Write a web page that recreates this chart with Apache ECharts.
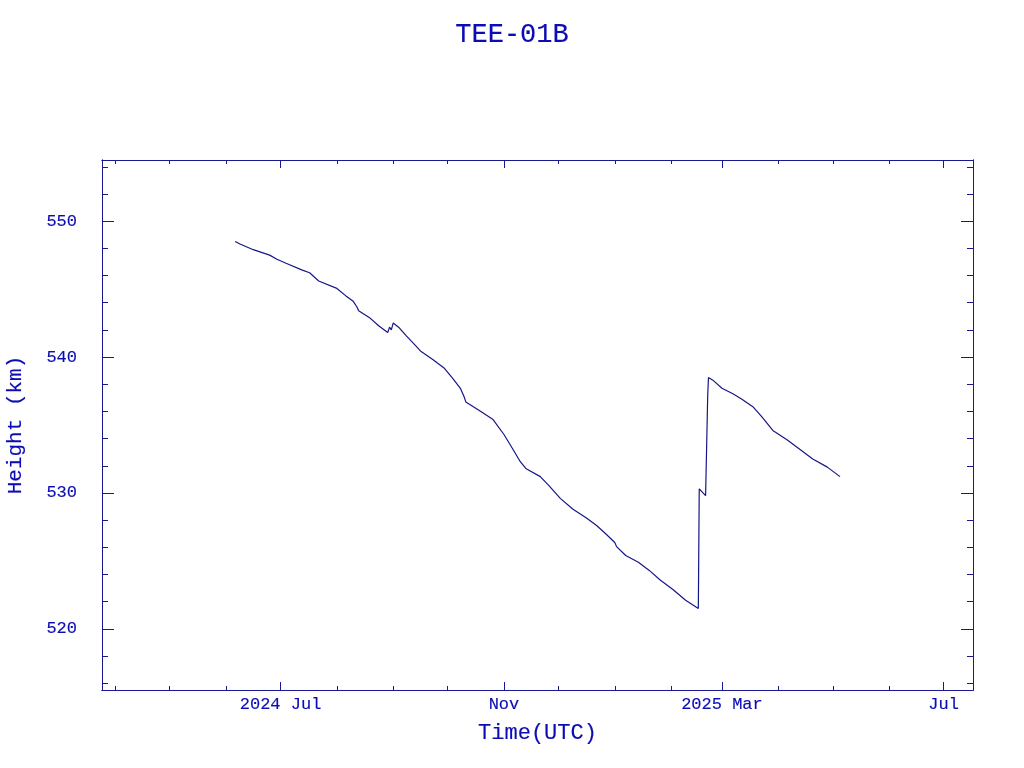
<!DOCTYPE html>
<html>
<head>
<meta charset="utf-8">
<script src="https://cdn.jsdelivr.net/npm/echarts@6/dist/echarts.min.js"></script>
<style>html,body{margin:0;padding:0;background:#fff}#c{width:1024px;height:768px}</style>
</head>
<body>
<div id="c"></div>
<script>
// ---- data ----
const dates = [
 '2024-06-06','2024-06-09','2024-06-16','2024-06-25','2024-06-29','2024-07-04','2024-07-13','2024-07-17',
 '2024-07-22','2024-08-01','2024-08-06','2024-08-10','2024-08-12','2024-08-13','2024-08-19','2024-08-24',
 '2024-08-29','2024-08-30','2024-08-31','2024-09-01','2024-09-04','2024-09-08','2024-09-14','2024-09-16',
 '2024-09-23','2024-09-29','2024-10-04','2024-10-08','2024-10-10','2024-10-11','2024-10-12','2024-10-18',
 '2024-10-26','2024-11-01','2024-11-06','2024-11-10','2024-11-13','2024-11-21','2024-11-26','2024-12-02',
 '2024-12-09','2024-12-16','2024-12-22','2024-12-27','2025-01-01','2025-01-02','2025-01-07','2025-01-14',
 '2025-01-20','2025-01-26','2025-02-02','2025-02-09','2025-02-16T00:00','2025-02-16T12:00','2025-02-20','2025-02-21T00:00',
 '2025-02-21T04:00','2025-02-21T14:00','2025-02-24','2025-03-01','2025-03-07','2025-03-12','2025-03-18','2025-03-23',
 '2025-03-29','2025-04-06','2025-04-13','2025-04-20','2025-04-28','2025-05-05'
];
const heights = [
 548.5,548.3,547.9,547.5,547.2,546.9,546.4,546.2,
 545.6,545.05,544.5,544.1,543.7,543.4,542.9,542.3,
 541.8,542.2,542.0,542.5,542.2,541.6,540.75,540.45,
 539.8,539.2,538.4,537.7,537.1,536.7,536.7,536.1,
 535.4,534.3,533.2,532.3,531.8,531.2,530.5,529.6,
 528.8,528.2,527.6,527.0,526.35,526.05,525.4,524.9,
 524.3,523.6,522.9,522.1,521.5,530.3,529.8,529.8,
 537.2,538.5,538.3,537.7,537.3,536.9,536.35,535.6,
 534.6,533.9,533.2,532.5,531.9,531.2
];
const majorDates = ['2024-07-01','2024-11-01','2025-03-01','2025-07-01'];
const majorLabels = ['2024 Jul','Nov','2025 Mar','Jul'];
const minorDates = ['2024-04-01','2024-05-01','2024-06-01','2024-07-01','2024-08-01','2024-09-01','2024-10-01',
 '2024-11-01','2024-12-01','2025-01-01','2025-02-01','2025-03-01','2025-04-01','2025-05-01','2025-06-01','2025-07-01'];
const yMajor = [520,530,540,550];
const yMinor = [516,518,520,522,524,526,528,530,532,534,536,538,540,542,544,546,548,550,552,554];
const xRange = ['2024-03-24T17:00','2025-07-17T05:00'];
const yRange = [515.5,554.5];

// ---- helpers ----
function ts(s){ return Date.parse(s.length===10 ? s+'T00:00:00Z' : s+':00Z'); }
const series = dates.map((d,i)=>[ts(d), heights[i]]);
const majorTs = majorDates.map(ts);
const minorTs = minorDates.map(ts);
const xMin = ts(xRange[0]), xMax = ts(xRange[1]);

const TXT = '#0c0cb4';
const AX = '#181890';
const FONT = 'Liberation Mono';
const thick = {textBorderColor:TXT, textBorderWidth:0.15};

function xAx(pos, vals, len, labels, extra){
  return Object.assign({
    type:'value', position:pos, min:xMin, max:xMax, gridIndex:0, scale:true,
    axisLine:{show:true,onZero:false,lineStyle:{color:AX,width:1}},
    axisTick:{show:true,inside:true,length:len,customValues:vals,lineStyle:{color:AX,width:1}},
    axisLabel: labels ? Object.assign({show:true,customValues:majorTs,color:TXT,fontFamily:FONT,fontSize:17,margin:6,
       formatter:function(v){const i=majorTs.indexOf(v);return i>=0?majorLabels[i]:'';}}, thick) : {show:false},
    splitLine:{show:false}, minorTick:{show:false}
  }, extra||{});
}
function yAx(pos, vals, len, labels, extra){
  return Object.assign({
    type:'value', position:pos, min:yRange[0], max:yRange[1], gridIndex:0, scale:true,
    axisLine:{show:true,onZero:false,lineStyle:{color:AX,width:1}},
    axisTick:{show:true,inside:true,length:len,customValues:vals,lineStyle:{color:AX,width:1}},
    axisLabel: labels ? Object.assign({show:true,customValues:yMajor,color:TXT,fontFamily:FONT,fontSize:17,margin:25}, thick) : {show:false},
    splitLine:{show:false}
  }, extra||{});
}

const chart = echarts.init(document.getElementById('c'), null, {renderer:'canvas'});
chart.setOption({
  backgroundColor:'#ffffff',
  animation:false,
  title:{text:'TEE-01B',left:'center',top:16,textStyle:Object.assign({color:TXT,fontFamily:FONT,fontSize:27,fontWeight:'normal'}, thick)},
  grid:{left:102,right:51,top:160,bottom:78,containLabel:false,outerBoundsMode:'none'},
  xAxis:[
    xAx('bottom', majorTs, 8, true, {name:'Time(UTC)',nameLocation:'middle',nameGap:32,
      nameTextStyle:Object.assign({color:TXT,fontFamily:FONT,fontSize:22}, thick)}),
    xAx('bottom', minorTs, 4, false),
    xAx('top', majorTs, 8, false),
    xAx('top', minorTs, 4, false)
  ],
  yAxis:[
    yAx('left', yMajor, 12, true, {name:'Height (km)',nameLocation:'middle',nameGap:76,
      nameTextStyle:Object.assign({color:TXT,fontFamily:FONT,fontSize:21}, thick)}),
    yAx('left', yMinor, 6, false),
    yAx('right', yMajor, 12, false),
    yAx('right', yMinor, 6, false)
  ],
  series:[{
    type:'line', data:series, xAxisIndex:0, yAxisIndex:0, showSymbol:false, symbol:'none',
    lineStyle:{color:'#161688',width:1.2}, smooth:false
  }]
});
</script>
</body>
</html>
